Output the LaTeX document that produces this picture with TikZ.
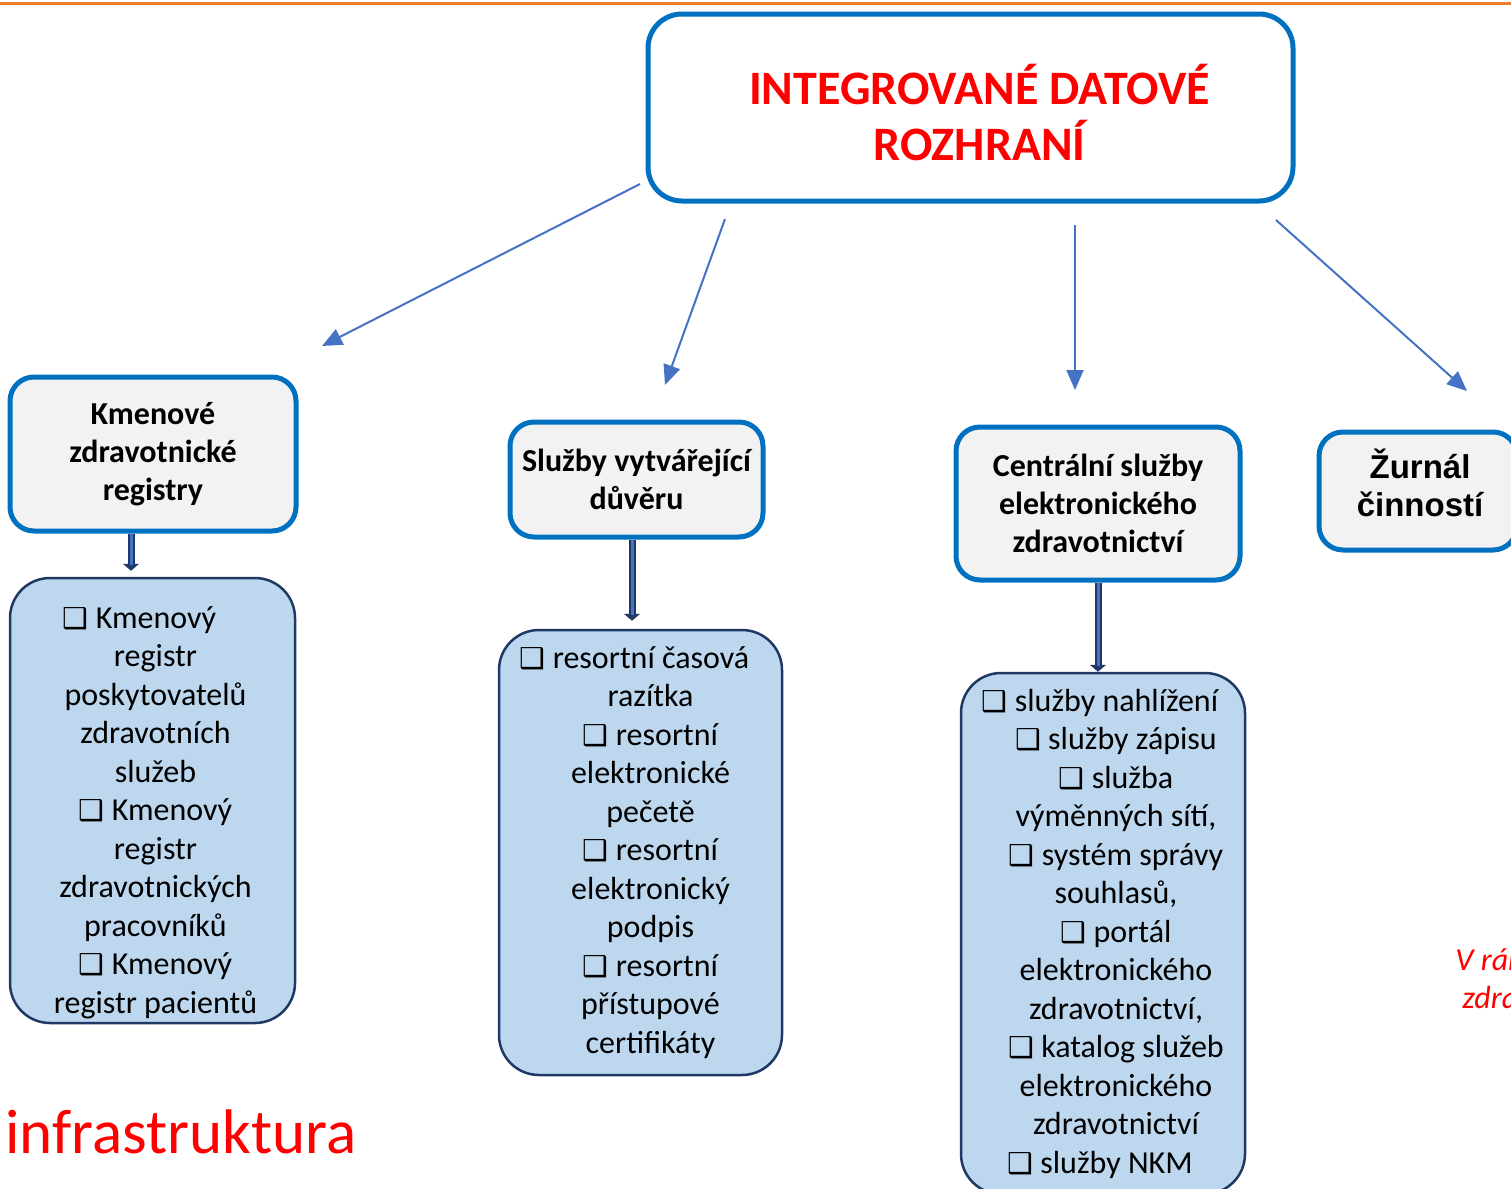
\documentclass[tikz,border=0pt]{standalone}
\usepackage{fontspec}
\setmainfont{Carlito}
\newfontfamily\arialfont{Liberation Sans}
\newfontfamily\symfont[Scale=0.9]{DejaVu Sans}
\usetikzlibrary{arrows.meta, positioning, calc}

\definecolor{topline}{HTML}{ED7D31}
\definecolor{boxblue}{HTML}{0070C0}
\definecolor{headfill}{HTML}{F2F2F2}
\definecolor{listfill}{HTML}{BDD7EE}
\definecolor{navy}{HTML}{1F3864}
\definecolor{arrowblue}{HTML}{4472C4}
\definecolor{titlered}{HTML}{FF0000}

\newcommand{\chk}[1]{{\symfont ❑}~#1\hspace*{16pt}}

\begin{document}
\begin{tikzpicture}[
  x=0.5pt, y=-0.5pt,
  head/.style={draw=boxblue, line width=2.5pt, fill=headfill, rounded corners=12pt,
               align=center, inner sep=0pt,
               font=\fontsize{16}{19}\selectfont\bfseries},
  list/.style={draw=navy, line width=1.25pt, fill=listfill, rounded corners=20pt,
               inner sep=0pt},
  listtext/.style={align=center, inner sep=0pt, font=\fontsize{16}{19.25}\selectfont},
  thin/.style={-{Triangle[length=10pt, width=8.5pt]}, draw=arrowblue, line width=1pt},
  pipe/.style={-{Triangle[length=3.5pt, width=8pt]}, draw=navy, line width=3.5pt},
  core/.style={draw=arrowblue, line width=1.5pt},
  redtxt/.style={text=titlered, inner sep=0pt}
]
\useasboundingbox (0,0) rectangle (1511,1189);
\clip (0,0) rectangle (1511,1189);

\draw[topline, line width=1.5pt] (0,3) -- (1511,3);

% top box
\node[draw=boxblue, line width=2.5pt, fill=white, rounded corners=17pt,
      minimum width=322.5pt, minimum height=93.5pt] (top) at (970.5,107.5) {};
\node[align=center, inner sep=0pt, text=titlered,
      font=\fontsize{24}{28}\selectfont\bfseries]
      (toptxt) at ([xshift=4.5pt, yshift=-2.5pt]top.center) {INTEGROVANÉ DATOVÉ\\ROZHRANÍ};

% second row
\node[head, minimum width=143pt, minimum height=77pt]   (kzr) at (153,454)
     {Kmenové\\zdravotnické\\registry};
\node[head, minimum width=126.5pt, minimum height=57.5pt] (svd) at (636.5,479.5)
     {Služby vytvářející\\důvěru};
\node[head, minimum width=142pt, minimum height=76.5pt] (csez) at (1098,503.5)
     {Centrální služby\\elektronického\\zdravotnictví};
\node[head, minimum width=99pt, minimum height=59pt] (zc) at (1418,491) {};
\node[align=center, inner sep=0pt,
      font=\fontsize{16.5}{19}\selectfont\arialfont\bfseries]
      (zctxt) at ([xshift=1pt, yshift=4pt]zc.center) {Žurnál\\činností};

% lists
\node[list, minimum width=142.5pt, minimum height=222.5pt] (lkzr) at (152.5,800.5) {};
\node[listtext] (lkzrtxt) at ([xshift=1.5pt, yshift=-6pt]lkzr.center)
     {\chk{Kmenový}\\registr\\poskytovatelů\\zdravotních\\služeb\\
      \chk{Kmenový}\\registr\\zdravotnických\\pracovníků\\
      \chk{Kmenový}\\registr pacientů};
\node[list, minimum width=141.5pt, minimum height=222.5pt] (lsvd) at (640.5,852.5) {};
\node[listtext] (lsvdtxt) at ([xshift=5pt]lsvd.center)
     {\chk{resortní časová}\\razítka\\
      \chk{resortní}\\elektronické\\pečetě\\
      \chk{resortní}\\elektronický\\podpis\\
      \chk{resortní}\\přístupové\\certifikáty};
\node[list, minimum width=142pt, minimum height=260.5pt] (lcsez) at (1103,933.5) {};
\node[listtext] (lcseztxt) at ([xshift=6.5pt]lcsez.center)
     {\chk{služby nahlížení}\\
      \chk{služby zápisu}\\
      \chk{služba}\\výměnných sítí,\\
      \chk{systém správy}\\souhlasů,\\
      \chk{portál}\\elektronického\\zdravotnictví,\\
      \chk{katalog služeb}\\elektronického\\zdravotnictví\\
      \chk{služby NKM}};

% thin arrows from the top box
\coordinate (s1) at (640,184);  \coordinate (e1) at (322,346);
\coordinate (s2) at (725,219);  \coordinate (e2) at (665,385);
\coordinate (s3) at (1075,225); \coordinate (e3) at (1075,390);
\coordinate (s4) at (1276,220); \coordinate (e4) at (1467,391);
\foreach \i in {1,...,4}
  \draw[thin] (s\i) -- (e\i);

% thick arrows down to the lists
\coordinate (pa) at ([xshift=-11pt]kzr.south);
\coordinate (pb) at ([xshift=-2.25pt]svd.south);
\coordinate (pc) at (csez.south);
\draw[pipe] (pa) -- ([yshift=3pt]pa |- lkzr.north);
\draw[core] (pa) -- ([yshift=6pt]pa |- lkzr.north);
\draw[pipe] (pb) -- ([yshift=4pt]pb |- lsvd.north);
\draw[core] (pb) -- ([yshift=7pt]pb |- lsvd.north);
\draw[pipe] (pc) -- (pc |- lcsez.north);
\draw[core] (pc) -- ([yshift=3pt]pc |- lcsez.north);

% red labels
\node[redtxt, anchor=base west, font=\fontsize{31.5}{31.5}\selectfont] (infra) at (5,1153)
     {infrastruktura};
\node[redtxt, anchor=north west, align=left,
      font=\fontsize{16}{19.25}\selectfont\itshape] (vramci) at (1455,948)
     {V rámci\\\hspace{3.5pt}zdravotnictví};
\end{tikzpicture}
\end{document}
